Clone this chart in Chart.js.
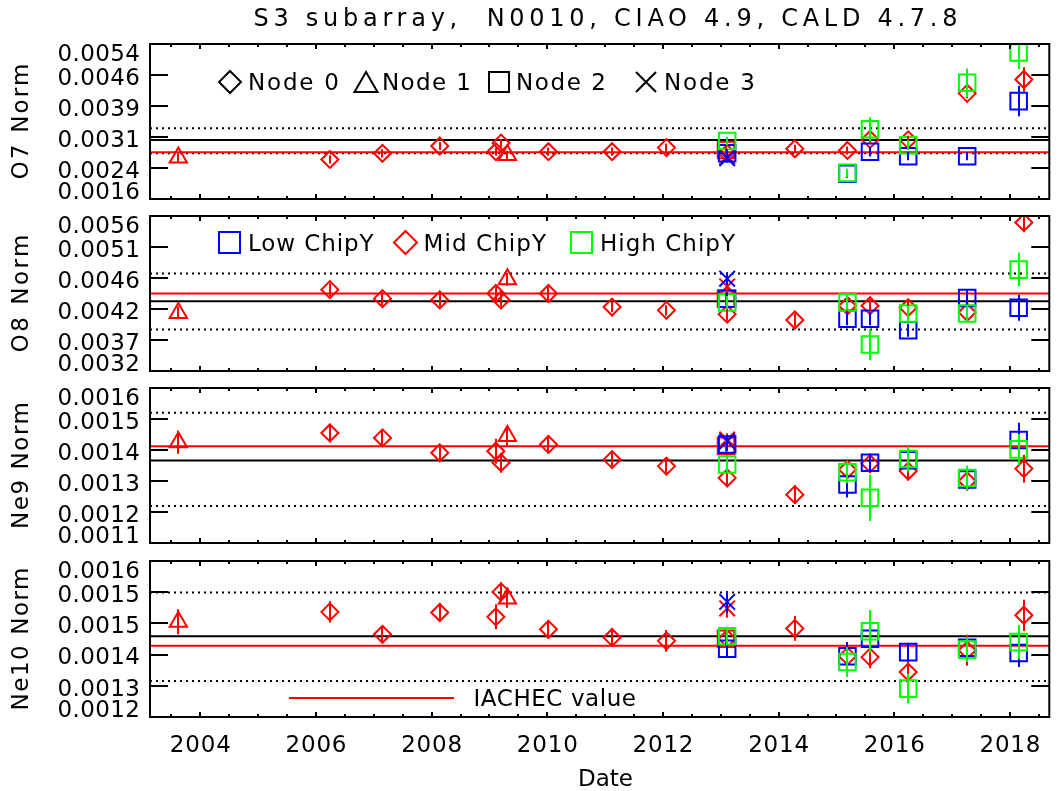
<!DOCTYPE html>
<html>
<head>
<meta charset="utf-8">
<title>S3 subarray line normalizations</title>
<script src="https://cdn.jsdelivr.net/npm/chart.js@4.4.1/dist/chart.umd.min.js"></script>
<style>
  body { margin: 0; background: #fff; }
  #plots { position: relative; width: 1063px; height: 791px; }
  #plots canvas { position: absolute; left: 0; top: 0; }
</style>
</head>
<body>
<div id="plots">
  <canvas id="panel0" width="1063" height="791"></canvas>
  <canvas id="panel1" width="1063" height="791"></canvas>
  <canvas id="panel2" width="1063" height="791"></canvas>
  <canvas id="panel3" width="1063" height="791"></canvas>
</div>
<script>
// Shared date axis (decimal years)
const xMin = 2003.13;
const xMax = 2018.68;
const xTickYears = [2004, 2006, 2008, 2010, 2012, 2014, 2016, 2018];

// Observation dates for each node / chip-Y group
const datesNode0Mid = [2006.24, 2007.15, 2008.14, 2009.11, 2009.20, 2010.02, 2011.12, 2012.06, 2013.11, 2014.28, 2015.19, 2015.58, 2016.24, 2017.26, 2018.24];
const datesNode1Mid = [2003.62, 2009.31];
const datesNode2Mid = [2013.09];
const datesNode2Low = [2013.11, 2015.19, 2015.58, 2016.24, 2017.26, 2018.15];
const datesNode2High = [2013.11, 2015.19, 2015.58, 2016.24, 2017.26, 2018.15];
const datesNode3Mid = [2013.11];
const datesNode3Low = [2013.11];

// Line normalizations as [value, error]
const o7Node0Mid = [[0.00257, 0.0001], [0.00272, 0.0001], [0.00290, 0.0001], [0.00276, 0.0001], [0.00297, 0.0001], [0.00276, 0.0001], [0.00276, 0.0001], [0.00286, 0.0001], [0.00272, 0.0001], [0.00283, 0.0001], [0.00279, 0.0001], [0.00306, 0.0001], [0.00305, 0.0001], [0.00419, 0.00012], [0.00453, 0.0003]];
const o7Node1Mid = [[0.00262, 0.0001], [0.00268, 0.0001]];
const o7Node2Mid = [[0.00280, 0.0001]];
const o7Node2Low = [[0.00272, 0.0001], [0.00222, 0.0001], [0.00276, 0.00012], [0.00265, 0.0001], [0.00265, 0.0001], [0.00400, 0.00037]];
const o7Node2High = [[0.00302, 0.0001], [0.00224, 0.0001], [0.00331, 0.00029], [0.00292, 0.00012], [0.00445, 0.00035], [0.00519, 0.0004]];
const o7Node3Mid = [[0.00264, 0.0001]];
const o7Node3Low = [[0.00260, 0.0001]];

const o8Node0Mid = [[0.00446, 0.0001], [0.00432, 0.0001], [0.00430, 0.0001], [0.00440, 0.0001], [0.00430, 0.0001], [0.00440, 0.0001], [0.00419, 0.00008], [0.00414, 0.00008], [0.00408, 0.0001], [0.00399, 0.0001], [0.00421, 0.0001], [0.00421, 0.0001], [0.00418, 0.0001], [0.00411, 0.0001], [0.00550, 0.00015]];
const o8Node1Mid = [[0.00410, 0.0001], [0.00462, 0.0001]];
const o8Node2Mid = [[0.00432, 0.0001]];
const o8Node2Low = [[0.00432, 0.0001], [0.00401, 0.0001], [0.00401, 0.0001], [0.00383, 0.0001], [0.00433, 0.00012], [0.00418, 0.0002]];
const o8Node2High = [[0.00426, 0.0001], [0.00426, 0.00012], [0.00361, 0.00024], [0.00409, 0.00012], [0.00409, 0.00014], [0.00477, 0.00026]];
const o8Node3Mid = [[0.00451, 0.0001]];
const o8Node3Low = [[0.00463, 0.0001]];

const ne9Node0Mid = [[0.001455, 0.00003], [0.001439, 0.000022], [0.001391, 0.000022], [0.001396, 0.00004], [0.001359, 0.000032], [0.001418, 0.00003], [0.001369, 0.000022], [0.001348, 0.000022], [0.001310, 0.00003], [0.001256, 0.00003], [0.001337, 0.00003], [0.001356, 0.00003], [0.001332, 0.00003], [0.001300, 0.00003], [0.001340, 0.000045]];
const ne9Node1Mid = [[0.001425, 0.000037], [0.001445, 0.000032]];
const ne9Node2Mid = [[0.001414, 0.00002]];
const ne9Node2Low = [[0.001418, 0.000022], [0.001289, 0.000042], [0.001359, 0.00003], [0.001367, 0.00003], [0.001305, 0.00003], [0.001432, 0.000056]];
const ne9Node2High = [[0.001353, 0.00003], [0.001328, 0.000035], [0.001246, 0.000075], [0.001371, 0.00004], [0.001310, 0.00004], [0.001402, 0.00005]];
const ne9Node3Mid = [[0.001434, 0.00002]];
const ne9Node3Low = [[0.001428, 0.00002]];

const ne10Node0Mid = [[0.001487, 0.000034], [0.001415, 0.000026], [0.001485, 0.00003], [0.001471, 0.00004], [0.001551, 0.000032], [0.001431, 0.00003], [0.001405, 0.00003], [0.001394, 0.000035], [0.001401, 0.00003], [0.001434, 0.00004], [0.001345, 0.00003], [0.001342, 0.000035], [0.001294, 0.000035], [0.001364, 0.00005], [0.001476, 0.00005]];
const ne10Node1Mid = [[0.001455, 0.00004], [0.00153, 0.00003]];
const ne10Node2Mid = [[0.001401, 0.00003]];
const ne10Node2Low = [[0.001369, 0.00003], [0.001345, 0.000045], [0.001401, 0.00003], [0.001358, 0.00003], [0.001372, 0.00003], [0.001355, 0.000045]];
const ne10Node2High = [[0.001409, 0.00003], [0.001326, 0.000048], [0.001425, 0.000068], [0.001241, 0.000048], [0.001366, 0.00004], [0.00139, 0.000055]];
const ne10Node3Mid = [[0.001498, 0.00003]];
const ne10Node3Low = [[0.001519, 0.000035]];

// Reference levels per panel (O7, O8, Ne9, Ne10)
const iachecNorm = [0.002745, 0.00440, 0.001412, 0.001378];
const meanNorm = [0.003046, 0.004281, 0.001366, 0.001409];
const bandLow = [0.00272, 0.003843, 0.001219, 0.001265];
const bandHigh = [0.003333, 0.00471, 0.00152, 0.001549];

// Y axes
const panelTitles = ['O7 Norm', 'O8 Norm', 'Ne9 Norm', 'Ne10 Norm'];
const yMin = [0.0016, 0.0032, 0.0011, 0.00115];
const yMax = [0.0054, 0.0056, 0.0016, 0.00165];
const yTicksO7 = ['0.0016', '0.0024', '0.0031', '0.0039', '0.0046', '0.0054'];
const yTicksO8 = ['0.0032', '0.0037', '0.0042', '0.0046', '0.0051', '0.0056'];
const yTicksNe9 = ['0.0011', '0.0012', '0.0013', '0.0014', '0.0015', '0.0016'];
const yTicksNe10 = ['0.0012', '0.0013', '0.0014', '0.0015', '0.0015', '0.0016'];
const yTickLabels = [yTicksO7, yTicksO8, yTicksNe9, yTicksNe10];

const nodeLegend = ['Node 0', 'Node 1', 'Node 2', 'Node 3'];
const chipLegend = ['Low ChipY', 'Mid ChipY', 'High ChipY'];
const refLegend = 'IACHEC value';
const plotTitle = 'S3 subarray,  N0010, CIAO 4.9, CALD 4.7.8';

// Layout
const W = 1063, H = 791;
const plotLeft = 150, plotRight = 1061;
const panelTop = [44, 216, 388, 561];
const panelHeight = [155, 155, 155, 156];

const RED = '#ff0000', BLUE = '#0000ff', GREEN = '#00ff00', BLACK = '#000000';
const FONT_FAMILY = '"DejaVu Sans", "Liberation Sans", sans-serif';
const TEXT_SIZE = 23;

const groups = [
  { dates: datesNode0Mid, values: [o7Node0Mid, o8Node0Mid, ne9Node0Mid, ne10Node0Mid], color: RED, style: 'rectRot', radius: 8.5, order: 9 },
  { dates: datesNode1Mid, values: [o7Node1Mid, o8Node1Mid, ne9Node1Mid, ne10Node1Mid], color: RED, style: 'triangle', radius: 10, order: 8 },
  { dates: datesNode2Mid, values: [o7Node2Mid, o8Node2Mid, ne9Node2Mid, ne10Node2Mid], color: RED, style: 'rect', radius: 11.7, order: 7 },
  { dates: datesNode3Mid, values: [o7Node3Mid, o8Node3Mid, ne9Node3Mid, ne10Node3Mid], color: RED, style: 'crossRot', radius: 11, order: 6 },
  { dates: datesNode2Low, values: [o7Node2Low, o8Node2Low, ne9Node2Low, ne10Node2Low], color: BLUE, style: 'rect', radius: 11.7, order: 5 },
  { dates: datesNode3Low, values: [o7Node3Low, o8Node3Low, ne9Node3Low, ne10Node3Low], color: BLUE, style: 'crossRot', radius: 11, order: 4 },
  { dates: datesNode2High, values: [o7Node2High, o8Node2High, ne9Node2High, ne10Node2High], color: GREEN, style: 'rect', radius: 11.7, order: 3 }
];

let capHalf = 8.4;
function setFont(ctx, size) {
  ctx.font = size + 'px ' + FONT_FAMILY;
  capHalf = size * 0.729 / 2;
}

// Text with extra tracking; either a fixed gap or stretched to a given width.
function spacedText(ctx, str, x, cy, align, width, gap) {
  ctx.letterSpacing = '0px';
  const natural = ctx.measureText(str).width;
  const n = str.length;
  const g = width ? (width - natural) / (n - 1) : (gap || 0);
  const visible = natural + g * (n - 1);
  const left = align === 'right' ? x - visible : align === 'center' ? x - visible / 2 : x;
  ctx.letterSpacing = g + 'px';
  ctx.textAlign = 'left';
  ctx.textBaseline = 'alphabetic';
  ctx.fillText(str, left, cy + capHalf);
  ctx.letterSpacing = '0px';
}

function legendMarker(ctx, style, x, y, size, color) {
  ctx.strokeStyle = color;
  ctx.lineWidth = 2;
  ctx.beginPath();
  if (style === 'diamond') {
    ctx.moveTo(x, y - size); ctx.lineTo(x + size, y); ctx.lineTo(x, y + size); ctx.lineTo(x - size, y); ctx.closePath();
  } else if (style === 'triangle') {
    ctx.moveTo(x - size, y + size * 0.87); ctx.lineTo(x, y - size * 0.87); ctx.lineTo(x + size, y + size * 0.87); ctx.closePath();
  } else if (style === 'square') {
    ctx.rect(x - size, y - size, 2 * size, 2 * size);
  } else {
    ctx.moveTo(x - size, y - size); ctx.lineTo(x + size, y + size);
    ctx.moveTo(x + size, y - size); ctx.lineTo(x - size, y + size);
  }
  ctx.stroke();
}

function drawErrorBars(chart) {
  const { ctx, chartArea: a } = chart;
  const xs = chart.scales.x, ys = chart.scales.y;
  ctx.save();
  ctx.beginPath();
  ctx.rect(a.left, a.top, a.right - a.left, a.bottom - a.top);
  ctx.clip();
  ctx.lineWidth = 2;
  chart.data.datasets.forEach(ds => {
    if (!ds.errors) return;
    ctx.strokeStyle = ds.pointBorderColor;
    ds.data.forEach((pt, i) => {
      const px = Math.round(xs.getPixelForValue(pt.x));
      ctx.beginPath();
      ctx.moveTo(px, ys.getPixelForValue(pt.y - ds.errors[i]));
      ctx.lineTo(px, ys.getPixelForValue(pt.y + ds.errors[i]));
      ctx.stroke();
    });
  });
  ctx.restore();
}

function drawLegend(ctx, p) {
  setFont(ctx, TEXT_SIZE);
  ctx.fillStyle = BLACK;
  if (p === 0) {
    const cy = 82;
    legendMarker(ctx, 'diamond', 230, cy, 11, BLACK);
    spacedText(ctx, nodeLegend[0], 248, cy, 'left', 91);
    legendMarker(ctx, 'triangle', 366, cy, 11.5, BLACK);
    spacedText(ctx, nodeLegend[1], 382, cy, 'left', 89);
    legendMarker(ctx, 'square', 499, cy, 10, BLACK);
    spacedText(ctx, nodeLegend[2], 516, cy, 'left', 90);
    legendMarker(ctx, 'cross', 646, cy, 10, BLACK);
    spacedText(ctx, nodeLegend[3], 664, cy, 'left', 91);
  } else if (p === 1) {
    const cy = 242.5;
    legendMarker(ctx, 'square', 229.5, cy, 10.5, BLUE);
    spacedText(ctx, chipLegend[0], 248, cy, 'left', 125.5);
    legendMarker(ctx, 'diamond', 405.5, cy, 11.5, RED);
    spacedText(ctx, chipLegend[1], 423.5, cy, 'left', 122.5);
    legendMarker(ctx, 'square', 581.5, cy, 10.5, GREEN);
    spacedText(ctx, chipLegend[2], 600, cy, 'left', 135);
  } else if (p === 3) {
    const cy = 698;
    ctx.strokeStyle = RED;
    ctx.lineWidth = 2;
    ctx.beginPath();
    ctx.moveTo(289, cy); ctx.lineTo(454, cy);
    ctx.stroke();
    spacedText(ctx, refLegend, 473.5, cy, 'left', 162.5);
  }
}

function makeFrame(p) {
  return {
    id: 'idlFrame',
    afterDatasetsDraw(chart) {
      drawErrorBars(chart);
    },
    afterDraw(chart) {
      const { ctx, chartArea: a } = chart;
      const xs = chart.scales.x, ys = chart.scales.y;
      const labels = yTickLabels[p];
      const step = (yMax[p] - yMin[p]) / (labels.length - 1);
      ctx.save();
      ctx.strokeStyle = BLACK;
      ctx.fillStyle = BLACK;
      ctx.lineWidth = 2;
      ctx.strokeRect(a.left, a.top, a.right - a.left, a.bottom - a.top);

      // inward ticks: y on both sides, x every half year on top and bottom
      ctx.beginPath();
      for (let i = 1; i < labels.length - 1; i++) {
        const py = Math.round(ys.getPixelForValue(yMin[p] + i * step));
        ctx.moveTo(a.left, py); ctx.lineTo(a.left + 18, py);
        ctx.moveTo(a.right - 18, py); ctx.lineTo(a.right, py);
      }
      for (let t = Math.ceil(xMin * 2) / 2; t <= xMax; t += 0.5) {
        const px = Math.round(xs.getPixelForValue(t));
        const len = xTickYears.includes(t) ? 5 : 3;
        ctx.moveTo(px, a.bottom); ctx.lineTo(px, a.bottom - len);
        ctx.moveTo(px, a.top); ctx.lineTo(px, a.top + len);
      }
      ctx.stroke();

      // y tick labels, end labels kept inside the panel height
      setFont(ctx, TEXT_SIZE);
      labels.forEach((lab, i) => {
        let cy = ys.getPixelForValue(yMin[p] + i * step) + 1.5;
        if (i === 0) cy = a.bottom - 8.5;
        if (i === labels.length - 1) cy = a.top + 8.5;
        spacedText(ctx, lab, a.left - 10, cy, 'right', 0, 0.4);
      });

      // rotated axis title
      const titleLen = [116, 118, 127, 143][p];
      ctx.save();
      ctx.translate(19.5, (a.top + a.bottom) / 2);
      ctx.rotate(-Math.PI / 2);
      spacedText(ctx, panelTitles[p], 0, 0, 'center', titleLen);
      ctx.restore();

      if (p === 0) {
        setFont(ctx, 24);
        spacedText(ctx, plotTitle, (plotLeft + plotRight) / 2, 17, 'center', 704);
      }
      if (p === 3) {
        setFont(ctx, TEXT_SIZE);
        xTickYears.forEach(yr => {
          spacedText(ctx, String(yr), xs.getPixelForValue(yr), 744, 'center', 0, 0.8);
        });
        spacedText(ctx, 'Date', (plotLeft + plotRight) / 2, 778, 'center', 55);
      }
      drawLegend(ctx, p);
      ctx.restore();
    }
  };
}

function refLine(value, color, dash, order) {
  return {
    data: [{ x: xMin, y: value }, { x: xMax, y: value }],
    showLine: true,
    borderColor: color,
    borderWidth: 2,
    borderDash: dash,
    pointRadius: 0,
    order: order
  };
}

function buildPanel(p) {
  const datasets = groups.map(g => ({
    data: g.dates.map((d, i) => ({ x: d, y: g.values[p][i][0] })),
    errors: g.values[p].map(v => v[1]),
    pointStyle: g.style,
    pointRadius: g.radius,
    pointBorderColor: g.color,
    pointBackgroundColor: 'rgba(0,0,0,0)',
    pointBorderWidth: 2,
    order: g.order
  }));
  datasets.push(refLine(bandHigh[p], BLACK, [2, 4], 20));
  datasets.push(refLine(bandLow[p], BLACK, [2, 4], 20));
  datasets.push(refLine(meanNorm[p], BLACK, [], 15));
  datasets.push(refLine(iachecNorm[p], RED, [], 12));

  const top = panelTop[p];
  const bottom = H - (top + panelHeight[p]);
  return new Chart(document.getElementById('panel' + p), {
    type: 'scatter',
    data: { datasets },
    options: {
      responsive: false,
      animation: false,
      events: [],
      layout: { padding: { left: plotLeft, right: W - plotRight, top: top, bottom: bottom } },
      scales: {
        x: { type: 'linear', min: xMin, max: xMax, display: false },
        y: { type: 'linear', min: yMin[p], max: yMax[p], display: false }
      },
      plugins: { legend: { display: false }, tooltip: { enabled: false }, title: { display: false } }
    },
    plugins: [makeFrame(p)]
  });
}

[0, 1, 2, 3].forEach(buildPanel);
</script>
</body>
</html>
